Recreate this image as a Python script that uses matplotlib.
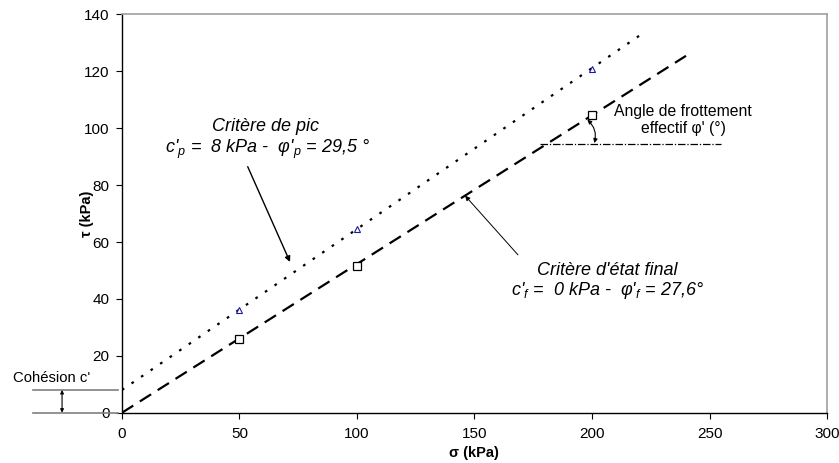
import numpy as np
import matplotlib
matplotlib.use("Agg")
import matplotlib.pyplot as plt

plt.rcParams['font.family'] = ['Liberation Sans', 'DejaVu Sans']
plt.rcParams['mathtext.fontset'] = 'custom'
plt.rcParams['mathtext.rm'] = 'Liberation Sans'
plt.rcParams['mathtext.it'] = 'Liberation Sans:italic'

# essais (kPa)
sigma = [50, 100, 200]
tau_pic = [36, 64.5, 121]
tau_final = [26, 51.5, 104.5]

# criteres de Mohr-Coulomb
c_pic, phi_pic = 8, 29.5
c_final, phi_final = 0, 27.6
x_end_pic, x_end_final = 221, 240

xticks = [0, 50, 100, 150, 200, 250, 300]
yticks = [0, 20, 40, 60, 80, 100, 120, 140]

fig = plt.figure(figsize=(8.39, 4.63), dpi=100)
ax = fig.add_axes([0.1454, 0.1086, 0.8403, 0.8601])

xp = np.array([0, x_end_pic])
ax.plot(xp, c_pic + xp * np.tan(np.radians(phi_pic)), color='black', lw=1.6,
        dashes=(1.2, 4.0))
xf = np.array([0, x_end_final])
ax.plot(xf, c_final + xf * np.tan(np.radians(phi_final)), color='black', lw=1.6,
        dashes=(6, 3.5))

ax.plot(sigma, tau_final, 's', ms=6, mfc='white', mec='black', mew=0.9, zorder=5)
ax.plot(sigma, tau_pic, '^', ms=5, mfc='white', mec='#1a1aa0', mew=0.8, zorder=5)

# ligne horizontale pour l'angle
ax.plot([178, 255], [94.5, 94.5], color='black', lw=0.9, dashes=(6, 1.5, 1, 1.5))
ax.annotate('', xy=(201, 94.8), xytext=(198, 103),
            arrowprops=dict(arrowstyle='<|-|>', color='black', lw=0.8,
                            mutation_scale=6, connectionstyle='arc3,rad=-0.3',
                            shrinkA=0, shrinkB=0))
ax.text(238.7, 106, 'Angle de frottement', ha='center', va='center', fontsize=11.3)
ax.text(238.7, 100, "effectif φ' (°)", ha='center', va='center', fontsize=11.3)

# textes criteres
ax.text(61, 100.6, 'Critère de pic', ha='center', va='center', fontsize=13,
        style='italic')
ax.text(62, 92.4, r"c'$_p$ =  8 kPa -  φ'$_p$ = 29,5 °", ha='center', va='center',
        fontsize=13, style='italic')
ax.annotate('', xy=(71.5, 53), xytext=(53.5, 86.5),
            arrowprops=dict(arrowstyle='-|>', color='black', lw=1.0,
                            mutation_scale=8, shrinkA=0, shrinkB=0))

ax.text(206.5, 50, "Critère d'état final", ha='center', va='center', fontsize=13,
        style='italic')
ax.text(206.5, 42.8, r"c'$_f$ =  0 kPa -  φ'$_f$ = 27,6°", ha='center', va='center',
        fontsize=13, style='italic')
ax.annotate('', xy=(146, 76.3), xytext=(168.5, 55.5),
            arrowprops=dict(arrowstyle='-|>', color='black', lw=0.7,
                            mutation_scale=7, shrinkA=0, shrinkB=0))

# cohesion (hors axes)
ax.plot([-38, -1.5], [c_pic, c_pic], color='#808080', lw=1.2, clip_on=False)
ax.plot([-38, -1.5], [0, 0], color='#808080', lw=1.2, clip_on=False)
ax.annotate('', xy=(-25.5, 0), xytext=(-25.5, c_pic), annotation_clip=False,
            arrowprops=dict(arrowstyle='<|-|>', color='black', lw=0.8,
                            mutation_scale=5, shrinkA=0, shrinkB=0))
ax.text(-46.5, 12.3, "Cohésion c'", ha='left', va='center', fontsize=10.7,
        clip_on=False)

ax.set_xlim(0, 300)
ax.set_ylim(0, 140)
ax.set_xticks(xticks)
ax.set_yticks(yticks)
ax.tick_params(labelsize=11, length=4, width=0.8)
ax.tick_params(axis='y', pad=5)
ax.tick_params(axis='x', pad=6)
ax.set_xlabel('σ (kPa)', fontsize=10.5, fontweight='bold', va='center')
ax.set_ylabel('τ (kPa)', fontsize=10.5, fontweight='bold', va='center')
ax.xaxis.set_label_coords(0.499, -0.1)
ax.yaxis.set_label_coords(-0.05, 0.5)
for s in ['top', 'right']:
    ax.spines[s].set_color('#a0a0a0')
    ax.spines[s].set_linewidth(1.2)
for s in ['left', 'bottom']:
    ax.spines[s].set_linewidth(1.0)

fig.savefig('out.png', dpi=100)
